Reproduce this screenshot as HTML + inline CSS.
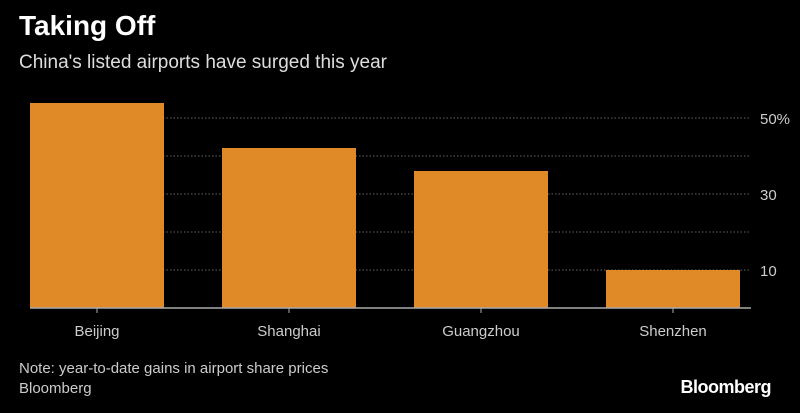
<!DOCTYPE html>
<html><head><style>
body{margin:0;background:#000;width:800px;height:408px;overflow:hidden;font-family:"Liberation Sans",sans-serif}
</style></head><body>
<svg width="800" height="408" xmlns="http://www.w3.org/2000/svg">
<rect width="800" height="408" fill="#000"/>
<text x="19" y="35" fill="#fff" font-size="28" font-weight="bold" font-family="Liberation Sans">Taking Off</text>
<text x="19" y="68" fill="#ddd" font-size="19" font-family="Liberation Sans">China's listed airports have surged this year</text>
<g stroke="#666" stroke-width="1" stroke-dasharray="1.5,2">
<line x1="30" x2="751" y1="118" y2="118"/>
<line x1="30" x2="751" y1="156" y2="156"/>
<line x1="30" x2="751" y1="194" y2="194"/>
<line x1="30" x2="751" y1="232" y2="232"/>
<line x1="30" x2="751" y1="270" y2="270"/>
</g>
<g fill="#DF8A27">
<rect x="30" y="103" width="134" height="205"/>
<rect x="222" y="148" width="134" height="160"/>
<rect x="414" y="171" width="134" height="137"/>
<rect x="606" y="270" width="134" height="38"/>
</g>
<line x1="30" x2="751" y1="308" y2="308" stroke="#aaa" stroke-width="1.5"/>
<g stroke="#aaa" stroke-width="1">
<line x1="97" x2="97" y1="308" y2="313"/>
<line x1="289" x2="289" y1="308" y2="313"/>
<line x1="481" x2="481" y1="308" y2="313"/>
<line x1="673" x2="673" y1="308" y2="313"/>
</g>
<g fill="#ccc" font-size="15" font-family="Liberation Sans">
<text x="760" y="124">50%</text>
<text x="760" y="200">30</text>
<text x="760" y="276">10</text>
</g>
<g fill="#ccc" font-size="15" font-family="Liberation Sans" text-anchor="middle">
<text x="97" y="336">Beijing</text>
<text x="289" y="336">Shanghai</text>
<text x="481" y="336">Guangzhou</text>
<text x="673" y="336">Shenzhen</text>
</g>
<text x="19" y="373" fill="#ccc" font-size="15" font-family="Liberation Sans">Note: year-to-date gains in airport share prices</text>
<text x="19" y="393" fill="#ccc" font-size="15" font-family="Liberation Sans">Bloomberg</text>
<text x="771" y="393" fill="#fff" font-size="18" font-weight="bold" text-anchor="end" font-family="Liberation Sans" letter-spacing="-0.5">Bloomberg</text>
</svg>
</body></html>
